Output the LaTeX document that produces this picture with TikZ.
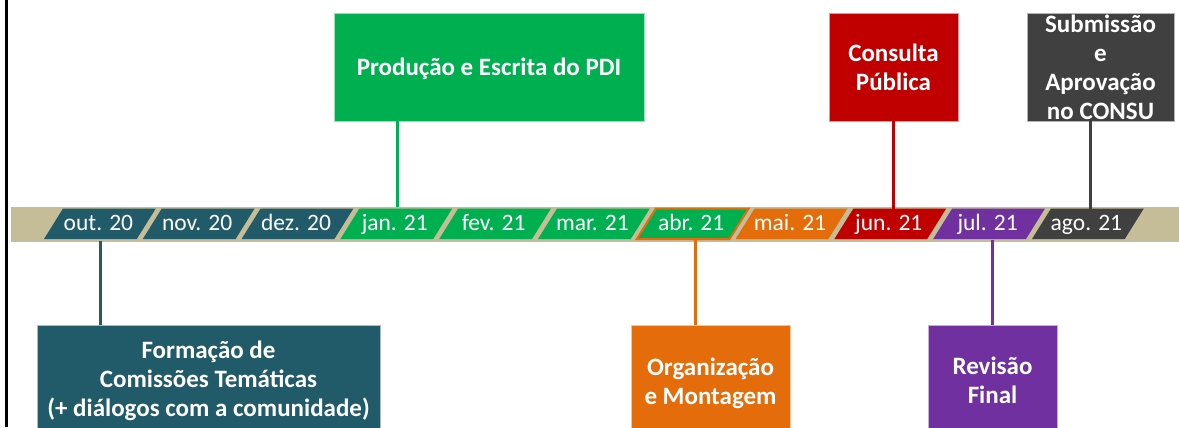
\documentclass[tikz,border=0pt]{standalone}
\usepackage{fontspec}
\setmainfont{Carlito}
\definecolor{tealc}{HTML}{215A69}
\definecolor{greenc}{HTML}{00B050}
\definecolor{orangec}{HTML}{E46C0A}
\definecolor{redc}{HTML}{C00000}
\definecolor{purplec}{HTML}{7030A0}
\definecolor{grayc}{HTML}{404040}
\definecolor{tanc}{HTML}{C4BD97}
\tikzset{
  monthlbl/.style={text=white, font=\fontsize{23.5bp}{28bp}\selectfont, anchor=base, inner sep=0pt},
  titlebox/.style={draw=white!60!#1, fill=#1, line width=0.6bp, text=white,
    font=\bfseries\fontsize{25bp}{29bp}\selectfont, align=center, inner sep=0pt},
  conn/.style={draw=#1, line width=3bp},
}
\begin{document}
\begin{tikzpicture}[x=1bp,y=-1bp]
\useasboundingbox (0,0) rectangle (1179,427);
\clip (0,0) rectangle (1179,427);
\fill[white] (0,0) rectangle (1179,427);
\draw[black, line width=2.4bp] (6.3,0) -- (6.3,427);
% timeline band
\fill[tanc] (11,206.5) rectangle (1179,241.5);
% months
\foreach \m/\c [count=\i from 0] in {out. 20/tealc, nov. 20/tealc, dez. 20/tealc, jan. 21/greenc, fev. 21/greenc, mar. 21/greenc, abr. 21/greenc, mai. 21/orangec, jun. 21/redc, jul. 21/purplec, ago. 21/grayc}{
  \pgfmathsetmacro\xl{41+98.8*\i+3}
  \pgfmathsetmacro\xr{41+98.8*(\i+1)-3}
  \fill[\c] (\xl,239) -- (\xr,239) -- (\xr+19,208.5) -- (\xl+19,208.5) -- cycle;
  \ifnum\i=6
    \draw[orangec, line width=2bp, line join=miter] (\xl,239) -- (\xr,239) -- (\xr+19,208.5) -- (\xl+19,208.5) -- cycle;
  \fi
  \node[monthlbl] (m\i) at ({(\xl+\xr)/2+8},230) {\m};
}
% top boxes
\node[titlebox=greenc, minimum width=310bp, minimum height=108bp, text height=20bp, text depth=4bp] (prod) at (489,67) {Produção e Escrita do PDI};
\node[titlebox=redc, minimum width=129bp, minimum height=108bp] (cons) at (893.5,67) {Consulta\\Pública};
\node[titlebox=grayc, minimum width=147bp, minimum height=108bp] (subm) at (1100.5,67) {Submissão\\e\\Aprovação\\no CONSU};
% bottom boxes (extend below the page edge, as in the reference)
\node[titlebox=tealc, minimum width=343bp, minimum height=112bp] (form) at (208.5,381) {Formação de\\Comissões Temáticas\\(+ diálogos com a comunidade)};
\node[titlebox=orangec, minimum width=159bp, minimum height=116bp] (orga) at (710.5,383) {Organização\\e Montagem};
\node[titlebox=purplec, minimum width=129bp, minimum height=110bp] (revi) at (992.5,380) {Revisão\\Final};
% connector anchor points on the band
\coordinate (cprod) at (397,207);
\coordinate (ccons) at (893,208.5);
\coordinate (csubm) at (1090.5,208.5);
\coordinate (cform) at (100.5,241);
\coordinate (corga) at (695,239.5);
\coordinate (crevi) at (992,239.5);
% connectors
\draw[conn=greenc] (prod.south -| cprod) -- (cprod);
\draw[conn=redc] (cons.south -| ccons) -- (ccons);
\draw[conn=grayc] (subm.south -| csubm) -- (csubm);
\draw[conn=tealc] (cform) -- (form.north -| cform);
\draw[conn=orangec] (corga) -- (orga.north -| corga);
\draw[conn=purplec] (crevi) -- (revi.north -| crevi);
\end{tikzpicture}
\end{document}
